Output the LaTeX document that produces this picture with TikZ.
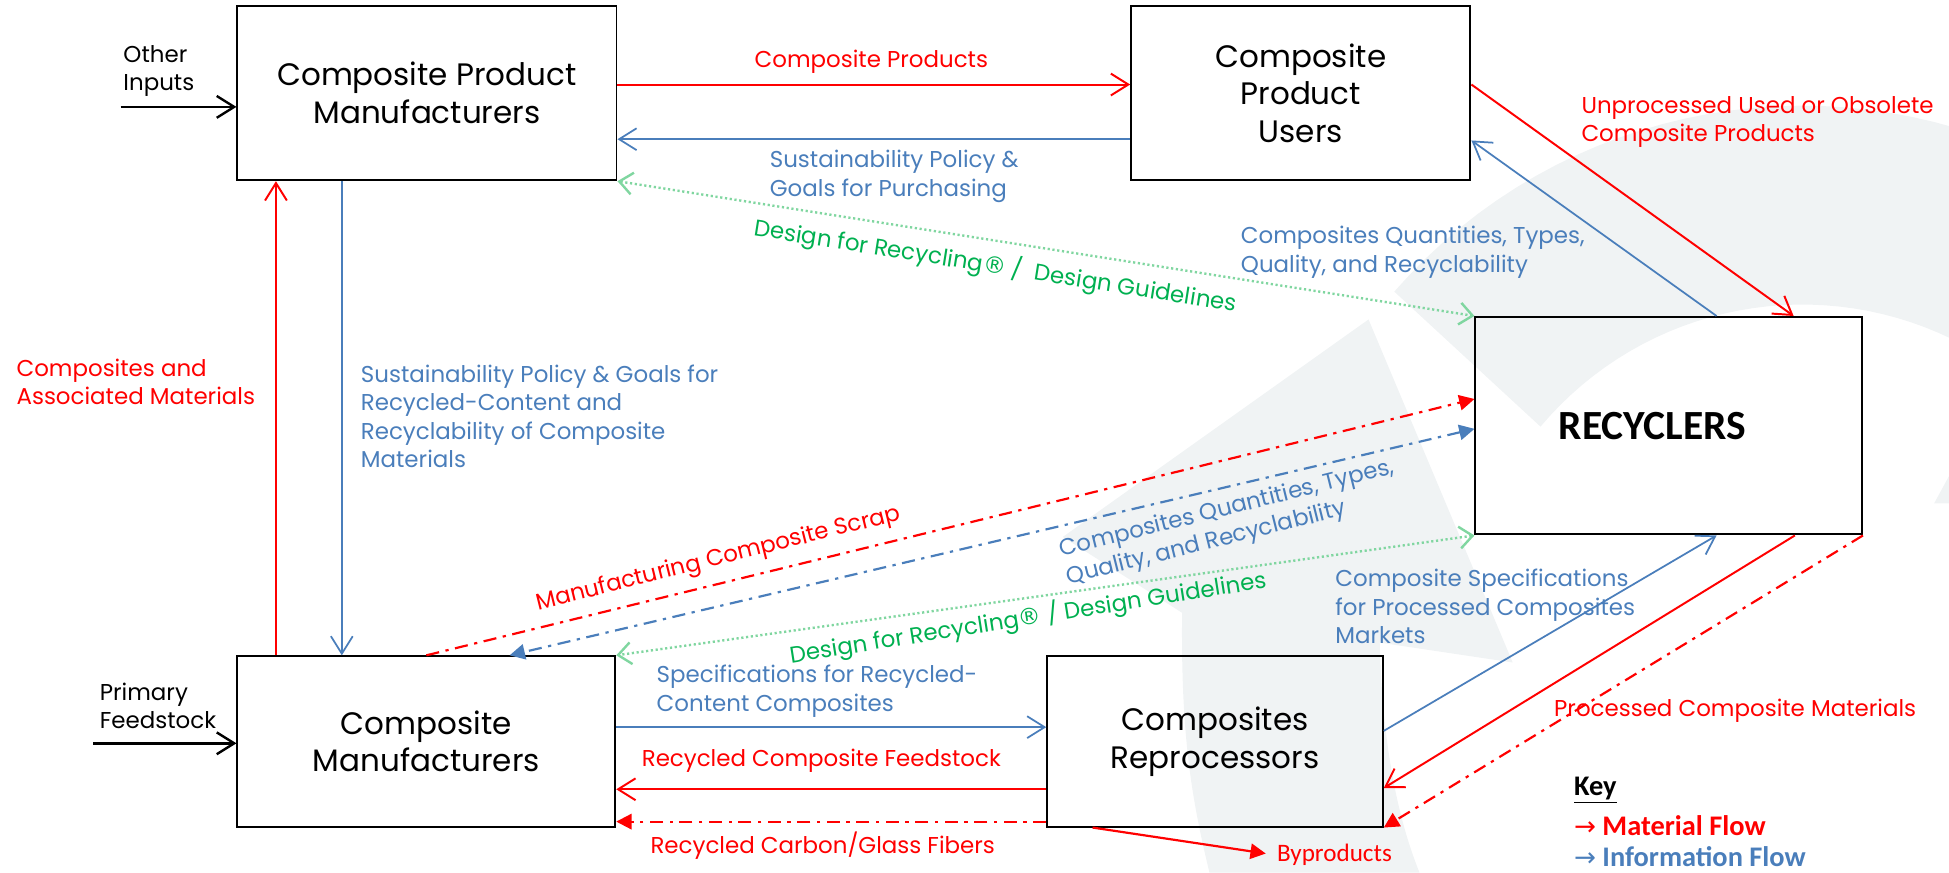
\documentclass[tikz,border=0pt]{standalone}
\usepackage{fontspec}
\setmainfont{Poppins}
\newfontfamily\calib{Carlito}
\newfontfamily\dejavu{DejaVu Sans}
\usetikzlibrary{arrows.meta}
\definecolor{cred}{RGB}{255,0,0}
\definecolor{cblue}{RGB}{74,126,187}
\definecolor{cgreen}{RGB}{0,176,80}
\definecolor{lgreen}{RGB}{128,214,160}
\definecolor{wm}{RGB}{240,243,244}
\newcommand{\regmark}{{\dejavu ®}}
\tikzset{
  box/.style={draw=black,line width=0.9pt,inner sep=0pt,align=center,font=\fontsize{14.2}{17.3}\selectfont},
  lbl/.style={inner sep=0pt,align=left,font=\fontsize{10.5}{13}\selectfont},
  opentip/.style={-{Straight Barb[length=8pt,width=10pt]}},
  redarr/.style={cred,line width=0.9pt,opentip},
  bluearr/.style={cblue,line width=0.8pt,opentip},
  blackarr/.style={black,line width=1.1pt,opentip},
  ddash/.style={dash pattern=on 6pt off 3pt on 1.5pt off 3pt},
  reddd/.style={cred,line width=1pt,ddash,-{Triangle[length=7pt,width=7pt]}},
  bluedd/.style={cblue,line width=1pt,ddash,{Triangle[length=7pt,width=7pt]}-{Triangle[length=7pt,width=7pt]}},
  greendot/.style={lgreen,line width=1.1pt,dash pattern=on 1pt off 1.2pt,
     {Straight Barb[length=6pt,width=10pt]}-{Straight Barb[length=6pt,width=10pt]}},
  keytxt/.style={inner sep=0pt,anchor=west,font=\calib\bfseries\fontsize{13}{15}\selectfont},
}
\begin{document}
\begin{tikzpicture}[x=0.02cm,y=-0.02cm]
\useasboundingbox (0,0) rectangle (1568,702);
% watermark
\begin{scope}
\clip (0,0) rectangle (1568,702);
\fill[wm] plot[domain=139:20,samples=50] ({1450+435*cos(\x)},{520-435*sin(\x)})
   -- plot[domain=20:140,samples=50] ({1450+275*cos(\x)},{520-275*sin(\x)}) -- cycle;
\fill[wm] (1101,257) -- (1217,533) -- (1110,517) .. controls (1112,600) and (1125,660) .. (1142,702)
   -- (973,702) .. controls (958,640) and (950,590) .. (951,493) -- (855,432) -- cycle;
\fill[wm] (1568,383) -- (1556,405) -- (1568,405) -- cycle;
\end{scope}
% boxes
\node[box,minimum width=6.1cm,minimum height=2.8cm] (cpm) at (343.5,75) {Composite Product\\Manufacturers};
\node[box,minimum width=5.46cm,minimum height=2.8cm] (users) at (1046.5,75) {Composite\\Product\\Users};
\node[box,minimum width=6.22cm,minimum height=3.5cm,font=\calib\bfseries\fontsize{19}{22}\selectfont] (rec) at (1342.5,342.5) {RECYCLERS\hspace*{15pt}};
\node[box,minimum width=6.08cm,minimum height=2.74cm] (cm) at (343,596.5) {Composite\\Manufacturers};
\node[box,minimum width=5.4cm,minimum height=2.74cm] (rep) at (977.5,596.5) {Composites\\Reprocessors};
% free ends
\coordinate (oi) at (97,86);
\coordinate (pf) at (75,598);
% labels
\node[lbl,anchor=west] (loi) at (99,57) {Other\\Inputs};
\node[lbl,anchor=west] (lpf) at (80,568) {Primary\\Feedstock};
\node[lbl,cred] (lcp) at (701,50) {Composite Products};
\node[lbl,cblue,anchor=west] (lsp) at (619,142) {Sustainability Policy \&\\Goals for Purchasing};
\node[lbl,cgreen,rotate=-9] (ldr1) at (801,214) {Design for Recycling\regmark~/~~Design Guidelines};
\node[lbl,cred,anchor=west] (lca) at (13,307) {Composites and\\Associated Materials};
\node[lbl,cblue,anchor=west] (lsg) at (290,335) {Sustainability Policy \& Goals for\\Recycled-Content and\\Recyclability of Composite\\Materials};
\node[lbl,cred,anchor=west] (lun) at (1272,98) {Unprocessed Used or Obsolete\\Composite Products};
\node[lbl,cblue,anchor=west] (lcq1) at (998,203) {Composites Quantities, Types,\\Quality, and Recyclability};
\node[lbl,cred,rotate=14] (lms) at (578,450) {Manufacturing Composite Scrap};
\node[lbl,cblue,rotate=14] (lcq2) at (990,421) {Composites Quantities, Types,\\Quality, and Recyclability};
\node[lbl,cgreen,rotate=9] (ldr2) at (827,497) {Design for Recycling\regmark~/~Design Guidelines};
\node[lbl,cblue,anchor=west] (lsr) at (528,556) {Specifications for Recycled-\\Content Composites};
\node[lbl,cred,anchor=west] (lrf) at (516,612) {Recycled Composite Feedstock};
\node[lbl,cred,anchor=west] (lrc) at (523,680) {Recycled Carbon/Glass Fibers};
\node[lbl,cblue,anchor=west] (lcs) at (1074,488) {Composite Specifications\\for Processed Composites\\Markets};
\node[lbl,cred,anchor=west] (lpc) at (1250,572) {Processed Composite Materials};
\node[inner sep=0pt,anchor=west,cred,font=\calib\fontsize{11.5}{14}\selectfont] (bp) at (1027,688) {Byproducts};
% key
\node[keytxt] (key) at (1266,636) {\underline{Key}};
\node[keytxt,cred] (km) at (1266,664) {{\dejavu\mdseries\fontsize{12}{12}\selectfont →} Material Flow};
\node[keytxt,cblue] (ki) at (1266,689) {{\dejavu\mdseries\fontsize{12}{12}\selectfont →} Information Flow};
% connectors
\draw[blackarr] (oi) -- (cpm.west |- oi);
\draw[blackarr] (pf) -- (cm.west |- pf);
\draw[redarr] (cpm.east |- 0,68) -- (users.west |- 0,68);
\draw[bluearr] (users.west |- 0,112) -- (cpm.east |- 0,112);
\draw[greendot] (cpm.south east) -- (rec.north west);
\draw[redarr] (cm.north -| 222,0) -- (cpm.south -| 222,0);
\draw[bluearr] (cpm.south -| 275,0) -- (cm.north -| 275,0);
\draw[redarr] (users.east |- 0,68) -- (rec.north -| 1443,0);
\draw[bluearr] (rec.north -| 1381,0) -- (users.east |- 0,113);
\draw[reddd] (cm.north -| 343,0) -- (rec.west |- 0,321);
\draw[bluedd] (rec.west |- 0,345) -- (cm.north -| 410,0);
\draw[greendot] (rec.south west) -- (cm.north east);
\draw[bluearr] (cm.east |- 0,585) -- (rep.west |- 0,585);
\draw[redarr] (rep.west |- 0,635) -- (cm.east |- 0,635);
\draw[reddd] (rep.west |- 0,661) -- (cm.east |- 0,661);
\draw[cred,line width=1pt,-{Triangle[length=7pt,width=7pt]},shorten >=5pt] (rep.south -| 879,0) -- (bp.west);
\draw[bluearr] (rep.east |- 0,588) -- (rec.south -| 1381,0);
\draw[redarr] (rec.south -| 1444,0) -- (rep.east |- 0,634);
\draw[reddd] (rec.south east) -- (rep.south east);
\end{tikzpicture}
\end{document}
